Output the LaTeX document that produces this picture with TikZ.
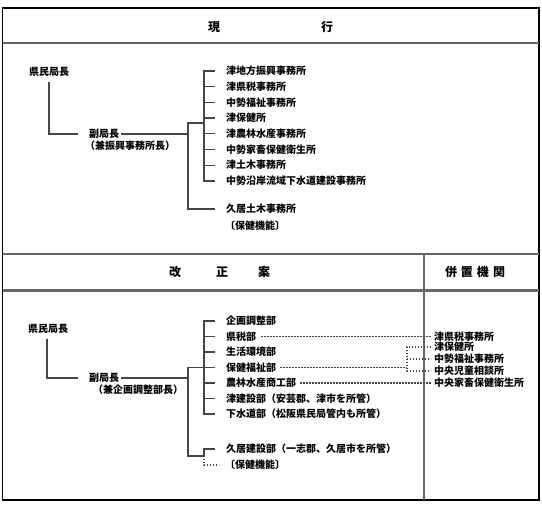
\documentclass[tikz,border=0pt]{standalone}
\usepackage{fontspec}
\newfontfamily\jp{Noto Sans CJK JP}
\definecolor{rulegray}{RGB}{102,102,102}
\definecolor{conngray}{RGB}{70,70,70}
\tikzset{
  frame/.style={line width=1.6pt, black},
  grayrule/.style={line width=2.2pt, rulegray},
  divline/.style={line width=1.8pt, rulegray},
  conn/.style={line width=1.3pt, conngray},
  dotc/.style={line width=1.2pt, conngray, dash pattern=on 1.1pt off 1.9pt},
  lbl/.style={anchor=west, inner sep=0pt, font=\jp\bfseries\fontsize{10}{12}\selectfont},
  hdr/.style={inner sep=0pt, font=\jp\bfseries\fontsize{12}{14}\selectfont}
}
\begin{document}
\begin{tikzpicture}[x=1pt,y=-1pt]
\useasboundingbox (0,0) rectangle (542,510);
% frame and rules
\draw[frame] (2.5,8) rectangle (539,500);
\draw[grayrule] (2.5,43) -- (539,43);
\draw[grayrule] (2.5,254) -- (539,254);
\draw[grayrule] (2.5,290.5) -- (539,290.5);
\coordinate (dvt) at (424,254);
\coordinate (dvb) at (424,500);
\draw[divline] (dvt) -- (dvb);
% headers
\node[hdr] (h1a) at (214,27) {現};
\node[hdr] (h1b) at (327,27) {行};
\node[hdr] (h2a) at (175,272) {改};
\node[hdr] (h2b) at (222,272) {正};
\node[hdr] (h2c) at (264,272) {案};
\node[hdr] (h2d) at (475,272) {併\hspace{4pt}置\hspace{4pt}機\hspace{4pt}関};
% junction x positions
\coordinate (ix) at (204,0);
\coordinate (ox) at (188,0);
% ---------- section 1 ----------
\node[lbl] (k1) at (29,72) {県民局長};
\node[lbl] (f1) at (89,134) {副局長};
\node[lbl] (f1b) at (85,146) {（兼振興事務所長）};
\coordinate (v1) at (49,82);
\draw[conn] (v1) |- ([xshift=-11pt]f1.west);
\draw[conn] ([xshift=2pt]f1.east) -- (ox |- f1.east);
\node[lbl] (a1) at (226,71) {津地方振興事務所};
\node[lbl] (a2) at (226,86.7) {津県税事務所};
\node[lbl] (a3) at (226,102.4) {中勢福祉事務所};
\node[lbl] (a4) at (226,118.1) {津保健所};
\node[lbl] (a5) at (226,133.8) {津農林水産事務所};
\node[lbl] (a6) at (226,149.5) {中勢家畜保健衛生所};
\node[lbl] (a7) at (226,165.2) {津土木事務所};
\node[lbl] (a8) at (226,180.9) {中勢沿岸流域下水道建設事務所};
\node[lbl] (b1) at (226,209) {久居土木事務所};
\node[lbl] (b2) at (225,226) {〔保健機能〕};
\draw[conn] ([xshift=-11pt]a1.west) -| (ix |- a8.west) -- ([xshift=-11pt]a8.west);
\foreach \n in {a2,a3,a4,a5,a6,a7}{
  \draw[conn] (ix |- \n.west) -- ([xshift=-11pt]\n.west);
}
\coordinate (oj1) at (188,123);
\draw[conn] (ix |- oj1) -| (ox |- b1.west) -- ([xshift=-11pt]b1.west);
% ---------- section 2 ----------
\node[lbl] (k2) at (28,329) {県民局長};
\node[lbl] (f2) at (89,378) {副局長};
\node[lbl] (f2b) at (93,390) {（兼企画調整部長）};
\coordinate (v2) at (47,339);
\draw[conn] (v2) |- ([xshift=-11pt]f2.west);
\draw[conn] ([xshift=2pt]f2.east) -- (ox |- f2.east);
\node[lbl] (c1) at (226,321) {企画調整部};
\node[lbl] (c2) at (226,336.5) {県税部};
\node[lbl] (c3) at (226,352) {生活環境部};
\node[lbl] (c4) at (226,367.5) {保健福祉部};
\node[lbl] (c5) at (226,383) {農林水産商工部};
\node[lbl] (c6) at (226,398.5) {津建設部（安芸郡、津市を所管）};
\node[lbl] (c7) at (226,414) {下水道部（松阪県民局管内も所管）};
\node[lbl] (d1) at (226,449) {久居建設部（一志郡、久居市を所管）};
\node[lbl] (d2) at (225,465) {〔保健機能〕};
\draw[conn] ([xshift=-11pt]c1.west) -| (ix |- c7.west) -- ([xshift=-11pt]c7.west);
\foreach \n in {c2,c3,c5,c6}{
  \draw[conn] (ix |- \n.west) -- ([xshift=-11pt]\n.west);
}
\coordinate (oc2) at (188,456);
\draw[conn] ([xshift=-11pt]c4.west) -- (ox |- c4.west) -- (oc2) -- (ix |- oc2) |- ([xshift=-11pt]d1.west);
\draw[dotc] (ix |- oc2) |- ([xshift=-6pt]d2.west);
% right column
\node[lbl] (r1) at (434,336.5) {津県税事務所};
\node[lbl] (r2) at (434,347) {津保健所};
\node[lbl] (r3) at (434,359) {中勢福祉事務所};
\node[lbl] (r4) at (434,371) {中央児童相談所};
\node[lbl] (r5) at (434,383) {中央家畜保健衛生所};
\coordinate (bx) at (407,0);
\draw[dotc] ([xshift=5pt]c2.east) -- ([xshift=-3pt]r1.west);
\draw[dotc] ([xshift=4pt]c4.east) -- (bx |- c4.east);
\draw[dotc] ([xshift=-3pt]r2.west) -| (bx |- r4.west) -- ([xshift=-3pt]r4.west);
\draw[dotc] (bx |- r3.west) -- ([xshift=-3pt]r3.west);
\draw[dotc] ([xshift=4pt]c5.east) -- ([xshift=-3pt]r5.west);
\end{tikzpicture}
\end{document}
